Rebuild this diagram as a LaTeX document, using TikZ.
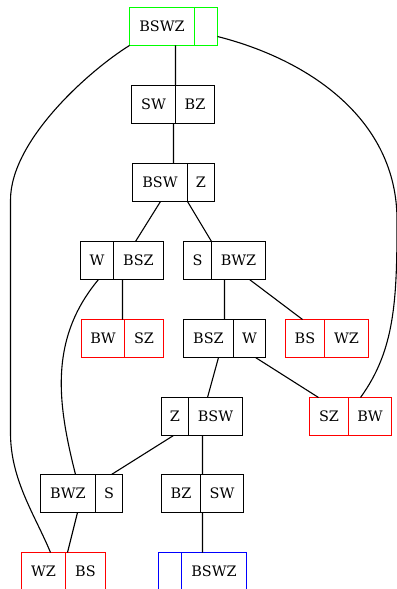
\documentclass[tikz,border=0pt]{standalone}
\usepackage{fontspec}
\setmainfont{DejaVu Serif}
\definecolor{gvgreen}{RGB}{0,255,0}
\definecolor{gvred}{RGB}{255,0,0}
\definecolor{gvblue}{RGB}{0,0,255}
\tikzset{
  half/.style={draw, line width=1.3bp, inner sep=0pt, outer sep=0pt,
    font=\fontsize{14.5}{16}\selectfont},
  link/.style={line width=1.1bp, black},
}
% name, x1, xd, x2, y1, y2, colour, left text, right text
\newcommand\recnode[9]{%
  \node[half, draw=#7, preaction={draw=#7, line width=1.3bp},
    minimum width={((#3)-(#2))*1.00375}, minimum height={((#6)-(#5))*1.00375}]
    (#1L) at ({((#2)+(#3))/2+0.5}, {((#5)+(#6))/2+0.5}) {#8};
  \node[half, draw=#7, preaction={draw=#7, line width=1.3bp},
    minimum width={((#4)-(#3))*1.00375}, minimum height={((#6)-(#5))*1.00375}]
    (#1R) at ({((#3)+(#4))/2+0.5}, {((#5)+(#6))/2+0.5}) {#9};
}
\begin{document}
\begin{tikzpicture}[x=1bp, y=-1bp]
\useasboundingbox (0,0) rectangle (396,589);
\recnode{t}{129}{194}{217}{7}{45}{gvgreen}{BSWZ}{}
\recnode{a}{131}{175}{214}{85}{123}{black}{SW}{BZ}
\recnode{b}{132}{187}{214}{163}{201}{black}{BSW}{Z}
\recnode{c}{80}{113}{163}{241}{279}{black}{W}{BSZ}
\recnode{d}{183}{211}{265}{241}{279}{black}{S}{BWZ}
\recnode{e}{81}{124}{163}{319}{357}{gvred}{BW}{SZ}
\recnode{f}{183}{233}{265}{319}{357}{black}{BSZ}{W}
\recnode{g}{285}{324}{368}{319}{357}{gvred}{BS}{WZ}
\recnode{h}{161}{188}{242}{397}{435}{black}{Z}{BSW}
\recnode{i}{309}{348}{391}{397}{435}{gvred}{SZ}{BW}
\recnode{j}{40}{95}{122}{474}{512}{black}{BWZ}{S}
\recnode{k}{161}{200}{243}{474}{512}{black}{BZ}{SW}
\recnode{l}{21}{65}{105}{552}{590}{gvred}{WZ}{BS}
\recnode{m}{158}{181}{246}{552}{590}{gvblue}{}{BSWZ}

\draw[link] ([xshift=46bp]tL.south west) -- (aL.north east);
\draw[link] ([xshift=42bp]aL.south west) -- ([xshift=41bp]bL.north west);
\draw[link] ([xshift=28bp]bL.south west) -- ([xshift=22bp]cR.north west);
\draw[link] (bR.south west) -- (dR.north west);
\draw[link] ([xshift=9bp]cR.south west) -- ([xshift=-2bp]eR.north west);
\draw[link] ([xshift=18bp]cL.south west) .. controls (48,340) and (58,405) .. ([xshift=35bp]jL.north west);
\draw[link] ([xshift=13bp]dR.south west) -- ([xshift=41bp]fL.north west);
\draw[link] ([xshift=38bp]dR.south west) -- ([xshift=17bp]gL.north west);
\draw[link] ([xshift=35bp]fL.south west) -- ([xshift=19bp]hR.north west);
\draw[link] ([xshift=22bp]fR.south west) -- ([xshift=9bp]iL.north west);
\draw[link] ([xshift=12bp]hL.south west) -- ([xshift=16bp]jR.north west);
\draw[link] ([xshift=14bp]hR.south west) -- ([xshift=2bp]kR.north west);
\draw[link] ([xshift=2bp]kR.south west) -- ([xshift=21bp]mR.north west);
\draw[link] ([xshift=37bp]jL.south west) -- ([xshift=2bp]lR.north west);
\draw[link] (tL.south west) .. controls (90,70) and (10.5,140) .. (10.5,200)
  -- (10.5,433) .. controls (10.5,480) and (35,515) .. ([xshift=29bp]lL.north west);
\draw[link] ([yshift=9bp]tR.south east) .. controls (310,60) and (397,120) .. (397,220)
  .. controls (397,300) and (395,350) .. ([xshift=12bp]iR.north west);
\end{tikzpicture}
\end{document}
